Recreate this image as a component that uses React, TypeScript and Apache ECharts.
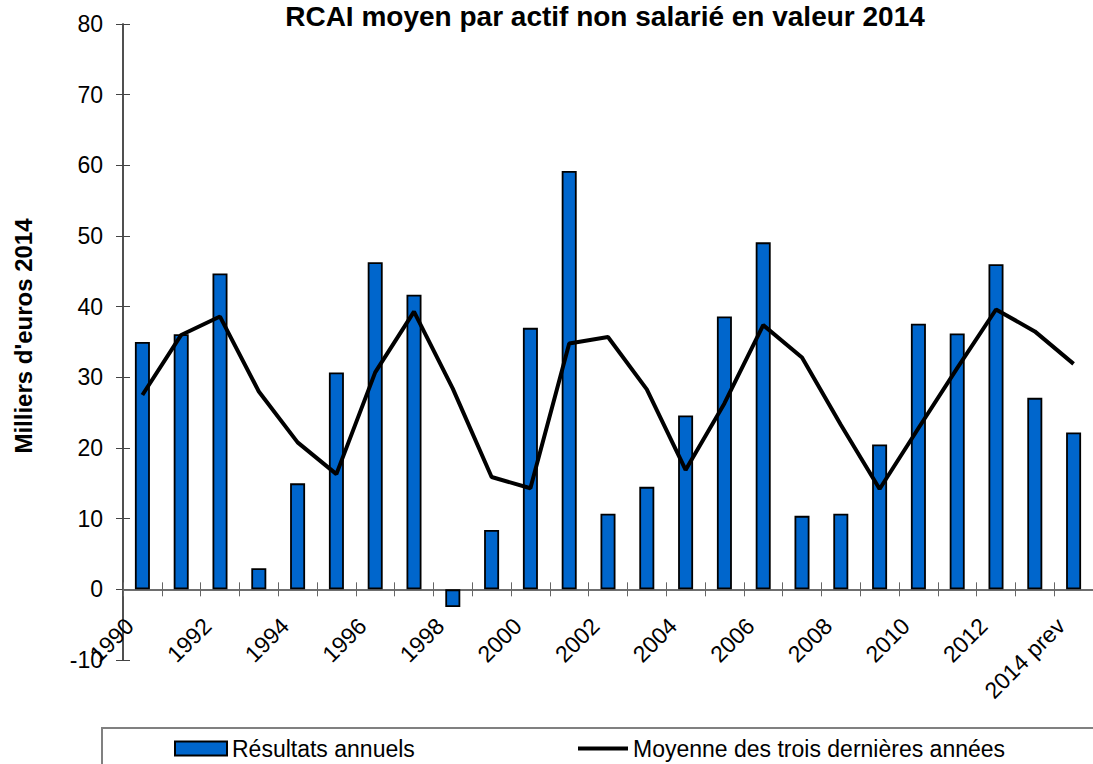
import React, { useEffect, useRef } from "react";
import * as echarts from "echarts";

const categories = [
  "1990", "1991", "1992", "1993", "1994", "1995", "1996", "1997", "1998", "1999",
  "2000", "2001", "2002", "2003", "2004", "2005", "2006", "2007", "2008", "2009",
  "2010", "2011", "2012", "2013", "2014 prev",
];
const annualResults = [
  35.0, 36.1, 44.7, 3.0, 15.0, 30.7, 46.3, 41.7, -2.5, 8.4,
  37.0, 59.2, 10.7, 14.5, 24.6, 38.6, 49.1, 10.4, 10.7, 20.5,
  37.6, 36.2, 46.0, 27.1, 22.2,
];
const threeYearAverage = [
  27.5, 36.0, 38.6, 28.0, 20.8, 16.3, 30.7, 39.3, 28.4, 15.9,
  14.3, 34.8, 35.7, 28.3, 16.9, 26.3, 37.4, 32.8, 23.3, 14.2,
  22.8, 31.3, 39.6, 36.5, 31.9,
];
const yMin = -10;
const yMax = 80;
const yStep = 10;

const titleText = "RCAI moyen par actif non salarié en valeur 2014";
const yAxisName = "Milliers d'euros 2014";
const barName = "Résultats annuels";
const lineName = "Moyenne des trois dernières années";

const FONT = "'Liberation Sans', Arial, Helvetica, sans-serif";

const GRID_TOP = 24;
const GRID_H = 636;
// distance from the bottom of the grid up to the zero line
const ZERO_OFFSET = (GRID_H * (0 - yMin)) / (yMax - yMin);

export default function App() {
  const ref = useRef<HTMLDivElement>(null);
  useEffect(() => {
    if (!ref.current) return;
    const chart = echarts.init(ref.current, null, { renderer: "svg" });
    const axisColor = "#666666";
    chart.setOption({
      animation: false,
      backgroundColor: "#ffffff",
      textStyle: { fontFamily: FONT },
      grid: { left: 123, top: GRID_TOP, width: 980, height: GRID_H, containLabel: false },
      legend: [
        {
          data: [{ name: barName, icon: "rect" }],
          left: 174,
          top: 737,
          padding: 0,
          itemWidth: 52,
          itemHeight: 14,
          textStyle: { fontSize: 23, color: "#000", fontFamily: FONT },
          selectedMode: false,
        },
        {
          data: [{ name: lineName, icon: "rect", itemStyle: { color: "#000", borderWidth: 0 } }],
          left: 578,
          top: 737,
          padding: 0,
          itemWidth: 50,
          itemHeight: 4,
          textStyle: { fontSize: 23, color: "#000", fontFamily: FONT },
          selectedMode: false,
        },
      ],
      xAxis: [
        {
          type: "category",
          data: categories,
          boundaryGap: true,
          offset: -ZERO_OFFSET,
          z: 1,
          axisLine: { onZero: false, lineStyle: { color: axisColor, width: 1.5 } },
          axisTick: { show: true, interval: 0, length: 7, lineStyle: { color: axisColor } },
          axisLabel: {
            interval: 1,
            rotate: 45,
            fontSize: 23,
            color: "#000",
            margin: 20,
            padding: [0, 18, 0, 0],
            fontFamily: FONT,
            hideOverlap: false,
          },
          splitLine: { show: false },
        },
        {
          type: "category",
          data: categories,
          position: "bottom",
          boundaryGap: true,
          offset: -ZERO_OFFSET,
          axisLine: { show: true, onZero: false, lineStyle: { color: axisColor, width: 1.5 } },
          axisTick: { show: true, inside: true, interval: 0, length: 7, lineStyle: { color: axisColor } },
          axisLabel: { show: false },
          splitLine: { show: false },
        },
      ],
      yAxis: [
        {
          type: "value",
          min: yMin,
          max: yMax,
          interval: yStep,
          axisLine: { show: true, lineStyle: { color: "#444", width: 1.5 } },
          axisTick: { show: true, length: 7, lineStyle: { color: "#444" } },
          axisLabel: { fontSize: 23, color: "#000", margin: 20, fontFamily: FONT },
          splitLine: { show: false },
        },
        {
          type: "value",
          min: yMin,
          max: yMax,
          interval: yStep,
          position: "left",
          axisLine: { show: true, lineStyle: { color: "#444", width: 1.5 } },
          axisTick: { show: true, inside: true, length: 7, lineStyle: { color: "#444" } },
          axisLabel: { show: false },
          splitLine: { show: false },
        },
      ],
      series: [
        {
          name: barName,
          type: "bar",
          xAxisIndex: 0,
          yAxisIndex: 0,
          data: annualResults,
          barWidth: 15,
          itemStyle: { color: "#0066CC", borderColor: "#000", borderWidth: 1.8 },
        },
        {
          name: lineName,
          type: "line",
          xAxisIndex: 0,
          yAxisIndex: 0,
          data: threeYearAverage,
          symbol: "none",
          lineStyle: { color: "#000", width: 4 },
          itemStyle: { color: "#000" },
        },
      ],
      graphic: [
        {
          type: "text",
          x: 605,
          y: 2,
          style: {
            text: titleText,
            fill: "#000",
            font: `bold 28px ${FONT}`,
            textAlign: "center",
            textVerticalAlign: "top",
          },
        },
        {
          type: "text",
          x: 23,
          y: 336,
          rotation: Math.PI / 2,
          style: {
            text: yAxisName,
            fill: "#000",
            font: `bold 24px ${FONT}`,
            textAlign: "center",
            textVerticalAlign: "middle",
          },
        },
        {
          type: "rect",
          shape: { x: 102, y: 728, width: 1100, height: 80 },
          style: { fill: "none", stroke: "#808080", lineWidth: 2 },
          z: -1,
        },
      ],
    });
    return () => chart.dispose();
  }, []);
  return (
    <div
      ref={ref}
      style={{ position: "absolute", left: 0, top: 0, width: 1093, height: 764 }}
    />
  );
}
